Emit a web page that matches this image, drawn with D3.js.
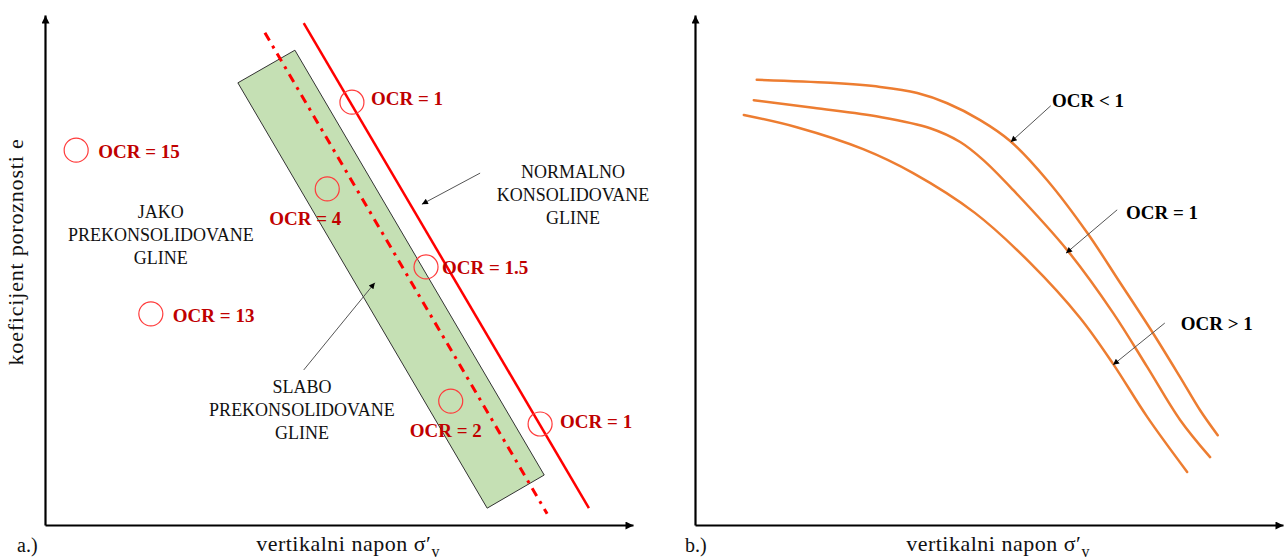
<!DOCTYPE html>
<html>
<head>
<meta charset="utf-8">
<script src="https://cdn.jsdelivr.net/npm/d3@7/dist/d3.min.js"></script>
<style>
  html, body { margin: 0; padding: 0; background: #fff; }
  svg { display: block; }
  text { font-family: "Liberation Serif", "DejaVu Serif", serif; }
</style>
</head>
<body>
<svg id="chart" width="1285" height="559"></svg>
<script>
// ---------- Panel a: void ratio vs. vertical stress, consolidation zones ----------
// (stress, void ratio) in relative units 0–100
const nclLine      = [[44.0, 98.4], [92.5, 3.3]];          // normally consolidated line
const bandAxisLine = [[37.4, 96.5], [85.4, 2.2]];          // centre line of the lightly OC band
const bandPolygon  = [[32.8, 86.7], [42.5, 93.1], [84.9, 9.8], [75.2, 3.3]];

const ocrValues = [1, 15, 4, 1.5, 13, 2, 1];
const ocrStress = [52.2, 5.3, 48.0, 64.8, 18.0, 69.0, 84.2];
const ocrVoid   = [82.9, 73.5, 65.9, 50.6, 41.4, 24.3, 19.8];

const zoneNames = [
  ["JAKO", "PREKONSOLIDOVANE", "GLINE"],
  ["NORMALNO", "KONSOLIDOVANE", "GLINE"],
  ["SLABO", "PREKONSOLIDOVANE", "GLINE"]
];

// ---------- Panel b: compression curves for different OCR ----------
const curveNames = ["OCR < 1", "OCR = 1", "OCR > 1"];
const curveUnder = [[10.5, 87.3], [23.0, 86.7], [31.5, 85.9], [37.8, 84.7], [42.9, 82.7], [48.5, 79.4],
                    [53.6, 75.3], [59.9, 67.6], [66.7, 57.3], [72.3, 47.5], [77.9, 37.6], [82.5, 29.0],
                    [85.9, 22.5], [88.9, 17.6]];
const curveNormal = [[10.0, 83.3], [20.1, 81.8], [31.5, 80.0], [40.0, 77.8], [45.1, 75.1], [49.0, 71.6],
                     [54.1, 65.7], [63.3, 53.9], [71.1, 41.6], [76.9, 31.0], [82.5, 20.6], [87.6, 13.3]];
const curveOver = [[8.3, 80.4], [17.3, 78.0], [28.6, 73.7], [37.1, 69.0], [47.6, 61.2], [57.0, 51.4],
                   [65.5, 40.6], [71.1, 31.6], [76.9, 21.2], [83.7, 10.4]];

const xAxisTitle = "vertikalni napon ";
const yAxisTitle = "koeficijent poroznosti e";
const panelTags = ["a.)", "b.)"];

// ---------- layout ----------
const svg = d3.select("#chart");
const W = 1285, H = 559;
svg.append("rect").attr("width", W).attr("height", H).attr("fill", "#fff");

const axisY0 = 525, axisY1 = 15;
const xA = d3.scaleLinear().domain([0, 100]).range([45, 633]);
const yA = d3.scaleLinear().domain([0, 100]).range([axisY0, axisY1]);
const xB = d3.scaleLinear().domain([0, 100]).range([695, 1283]);
const yB = yA;

const defs = svg.append("defs");
defs.append("marker")
  .attr("id", "axisHead").attr("markerUnits", "userSpaceOnUse")
  .attr("viewBox", "0 0 10 10").attr("refX", 10).attr("refY", 5)
  .attr("markerWidth", 9).attr("markerHeight", 8).attr("orient", "auto")
  .append("path").attr("d", "M0,0L10,5L0,10z").attr("fill", "#000");
defs.append("marker")
  .attr("id", "noteHead").attr("markerUnits", "userSpaceOnUse")
  .attr("viewBox", "0 0 10 10").attr("refX", 10).attr("refY", 5)
  .attr("markerWidth", 8).attr("markerHeight", 6).attr("orient", "auto")
  .append("path").attr("d", "M0,0L10,5L0,10z").attr("fill", "#000");

function drawAxes(x, y, tag) {
  const gx = svg.append("g").attr("transform", `translate(0,${axisY0})`)
    .call(d3.axisBottom(x).ticks(0).tickSizeOuter(0));
  const gy = svg.append("g").attr("transform", `translate(${x.range()[0]},0)`)
    .call(d3.axisLeft(y).ticks(0).tickSizeOuter(0));
  [gx, gy].forEach(g => g.select(".domain")
    .attr("stroke", "#000").attr("stroke-width", 2.2)
    .attr("marker-end", "url(#axisHead)"));

  // x title with σ′ᵥ
  const t = svg.append("text")
    .attr("x", x.range()[0] + 303).attr("y", 551)
    .attr("text-anchor", "middle").attr("font-size", 22)
    .attr("letter-spacing", 0.5).attr("fill", "#111");
  t.append("tspan").text(xAxisTitle + "σ′");
  t.append("tspan").text("v").attr("font-size", 16).attr("dy", 6);

  svg.append("text")
    .attr("x", x.range()[0] - (tag === "a.)" ? 28 : 10)).attr("y", 552)
    .attr("font-size", 20).attr("fill", "#111").text(tag);
}

drawAxes(xA, yA, panelTags[0]);
drawAxes(xB, yB, panelTags[1]);

// y title on the left panel
svg.append("text")
  .attr("transform", `translate(15,252) rotate(-90)`)
  .attr("text-anchor", "middle").attr("dy", "0.35em")
  .attr("font-size", 22).attr("letter-spacing", 0.8).attr("fill", "#111")
  .text(yAxisTitle);

// ---------- panel a marks ----------
const lineA = d3.line().x(d => xA(d[0])).y(d => yA(d[1]));

svg.append("path")
  .attr("d", lineA(bandPolygon) + "Z")
  .attr("fill", "#C5E0B4").attr("stroke", "#333").attr("stroke-width", 1);

svg.append("path")
  .attr("d", lineA(bandAxisLine))
  .attr("fill", "none").attr("stroke", "#FF0000").attr("stroke-width", 3)
  .attr("stroke-dasharray", "9,6,3,6");

svg.append("path")
  .attr("d", lineA(nclLine))
  .attr("fill", "none").attr("stroke", "#FF0000").attr("stroke-width", 2.5);

// OCR markers with labels
const ocrData = ocrValues.map((v, i) => ({ v, x: ocrStress[i], y: ocrVoid[i] }));
const labelPlacement = [
  { dx: 19, dy: -4, anchor: "start" },
  { dx: 22, dy: 1, anchor: "start" },
  { dx: -22, dy: 29, anchor: "middle" },
  { dx: 16, dy: 0, anchor: "start" },
  { dx: 22, dy: 1, anchor: "start" },
  { dx: -5, dy: 29, anchor: "middle" },
  { dx: 20, dy: -3, anchor: "start" }
];

svg.append("g").selectAll("circle").data(ocrData).join("circle")
  .attr("cx", d => xA(d.x)).attr("cy", d => yA(d.y)).attr("r", 12)
  .attr("fill", "none").attr("stroke", "#FF3B3B").attr("stroke-width", 1.2);

svg.append("g").selectAll("text").data(ocrData).join("text")
  .attr("x", (d, i) => xA(d.x) + labelPlacement[i].dx)
  .attr("y", (d, i) => yA(d.y) + labelPlacement[i].dy)
  .attr("dy", "0.35em")
  .attr("text-anchor", (d, i) => labelPlacement[i].anchor)
  .attr("font-size", 19).attr("font-weight", "bold").attr("fill", "#C00000")
  .text(d => `OCR = ${d.v}`);

// zone captions
const zonePlacement = [[19.7, 61.4], [89.8, 69.2], [43.7, 27.1]];
zoneNames.forEach((lines, i) => {
  const t = svg.append("text")
    .attr("text-anchor", "middle").attr("font-size", 18).attr("fill", "#111");
  lines.forEach((s, k) => {
    t.append("tspan")
      .attr("x", xA(zonePlacement[i][0]))
      .attr("y", yA(zonePlacement[i][1]) + k * 23 + 6)
      .text(s);
  });
});

// pointer arrows on panel a
const arrowsA = [
  { from: [74.0, 69.0], to: [64.1, 62.9] },
  { from: [44.0, 30.4], to: [56.1, 47.5] }
];
svg.append("g").selectAll("line").data(arrowsA).join("line")
  .attr("x1", d => xA(d.from[0])).attr("y1", d => yA(d.from[1]))
  .attr("x2", d => xA(d.to[0])).attr("y2", d => yA(d.to[1]))
  .attr("stroke", "#555").attr("stroke-width", 1)
  .attr("marker-end", "url(#noteHead)");

// ---------- panel b marks ----------
const curveB = d3.line().x(d => xB(d[0])).y(d => yB(d[1])).curve(d3.curveCatmullRom.alpha(0.5));
[curveUnder, curveNormal, curveOver].forEach(c => {
  svg.append("path").attr("d", curveB(c))
    .attr("fill", "none").attr("stroke", "#ED7D31").attr("stroke-width", 2.5)
    .attr("stroke-linecap", "round");
});

const notesB = [
  { text: curveNames[0], label: [60.7, 83.3], from: [60.5, 82.2], to: [53.7, 75.1] },
  { text: curveNames[1], label: [73.3, 61.4], from: [71.8, 61.8], to: [63.1, 53.3] },
  { text: curveNames[2], label: [82.6, 39.6], from: [79.9, 39.6], to: [71.1, 31.4] }
];
svg.append("g").selectAll("line").data(notesB).join("line")
  .attr("x1", d => xB(d.from[0])).attr("y1", d => yB(d.from[1]))
  .attr("x2", d => xB(d.to[0])).attr("y2", d => yB(d.to[1]))
  .attr("stroke", "#555").attr("stroke-width", 1)
  .attr("marker-end", "url(#noteHead)");
svg.append("g").selectAll("text").data(notesB).join("text")
  .attr("x", d => xB(d.label[0])).attr("y", d => yB(d.label[1]))
  .attr("dy", "0.35em")
  .attr("font-size", 19).attr("font-weight", "bold").attr("fill", "#000")
  .text(d => d.text);
</script>
</body>
</html>
